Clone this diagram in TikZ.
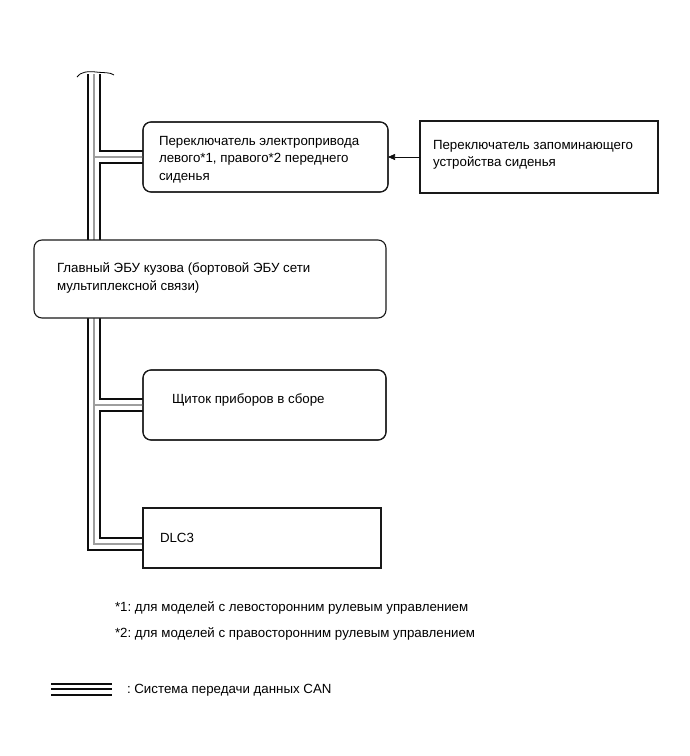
\documentclass[tikz,border=0pt]{standalone}
\usepackage{fontspec}
\setmainfont{Liberation Sans}
\frenchspacing
\usetikzlibrary{arrows.meta,positioning}
\definecolor{BusInk}{gray}{0.05}
\definecolor{BusMid}{gray}{0.62}
\definecolor{BoxEdge}{gray}{0.1}
\tikzset{
    can/diagram/.style={
        font=\fontsize{13.3}{17.5}\selectfont,
        x=1pt, y=-1pt,
        line join=miter,
        every node/.style={inner sep=0pt, outer sep=0pt}
    },
    can/box/.style={draw=BoxEdge, fill=white, line width=1.1pt, anchor=north west},
    can/rbox/.style={can/box, rounded corners=8pt},
    can/text/.style={anchor=north west, align=left},
    can/wire/.style={draw=BusInk, line width=2pt},
    can/mid/.style={draw=BusMid, line width=1.2pt},
    can/arrow/.style={
        draw=BusInk, line width=0.6pt,
        -{Triangle[length=7pt, width=6pt]}
    }
}

\begin{document}
\begin{tikzpicture}[can/diagram]
    \useasboundingbox (0,0) rectangle (689,756);
    % boxes on the bus
    \node[can/rbox, minimum width=245pt, minimum height=70pt] (seatsw) at (143,122) {};
    \node[can/box, minimum width=238pt, minimum height=72pt] (memsw) at (420,121) {};
    \node[can/rbox, minimum width=243pt, minimum height=70pt] (meter) at (143,370) {};
    \node[can/box, minimum width=238pt, minimum height=60pt] (dlc) at (143,508) {};
    % CAN bus
    \coordinate (busA) at (88,74);
    \coordinate (busB) at (94,74);
    \coordinate (busC) at (100,74);
    \draw[can/wire] (busA) |- ([yshift=-12pt]dlc.west);
    \draw[can/mid] (busB) |- ([yshift=-6pt]dlc.west);
    \draw[can/mid] (busB |- seatsw.west) -- (seatsw.west);
    \draw[can/mid] (busB |- meter.west) -- (meter.west);
    \draw[can/wire] (busC) |- ([yshift=6pt]seatsw.west);
    \draw[can/wire] ([yshift=-6pt]seatsw.west) -- +(-43,0)
        |- ([yshift=6pt]meter.west);
    \draw[can/wire] ([yshift=-6pt]meter.west) -- +(-43,0) |- (dlc.west);
    \draw[line width=0.8pt] (77,77) .. controls (80,72) and (88,71) .. (96,72)
        .. controls (104,73) and (110,72) .. (114,75);
    % redraw box edges over wire ends
    \draw[BoxEdge, line width=1.1pt, rounded corners=8pt]
        (seatsw.north west) rectangle (seatsw.south east);
    \draw[BoxEdge, line width=1.1pt, rounded corners=8pt]
        (meter.north west) rectangle (meter.south east);
    \draw[BoxEdge, line width=1.1pt] (dlc.north west) rectangle (dlc.south east);
    \node[can/rbox, minimum width=352pt, minimum height=78pt] (ecu) at (34,240) {};
    \draw[can/arrow] (memsw.west) -- (seatsw.east);
    % texts
    \node[can/text] (seatswtxt) at (159,136)
        {Переключатель электропривода\\левого*1, правого*2 переднего\\сиденья};
    \node[can/text] (memswtxt) at (433,140)
        {Переключатель запоминающего\\устройства сиденья};
    \node[can/text] (ecutxt) at (57,263)
        {Главный ЭБУ кузова (бортовой ЭБУ сети\\мультиплексной связи)};
    \node[can/text] (metertxt) at (172,394) {Щиток приборов в сборе};
    \node[can/text] (dlctxt) at (160,533) {DLC3};
    \node[anchor=west] (note1) at (115,608)
        {*1: для моделей с левосторонним рулевым управлением};
    \node[anchor=west] (note2) at (115,634)
        {*2: для моделей с правосторонним рулевым управлением};
    % legend
    \draw[can/wire] (51,684) -- (112,684);
    \draw[BusInk, line width=1.2pt] (51,689) -- (112,689);
    \draw[can/wire] (51,695) -- (112,695);
    \node[anchor=west] (legendtxt) at (127,690) {: Система передачи данных CAN};
\end{tikzpicture}
\end{document}
